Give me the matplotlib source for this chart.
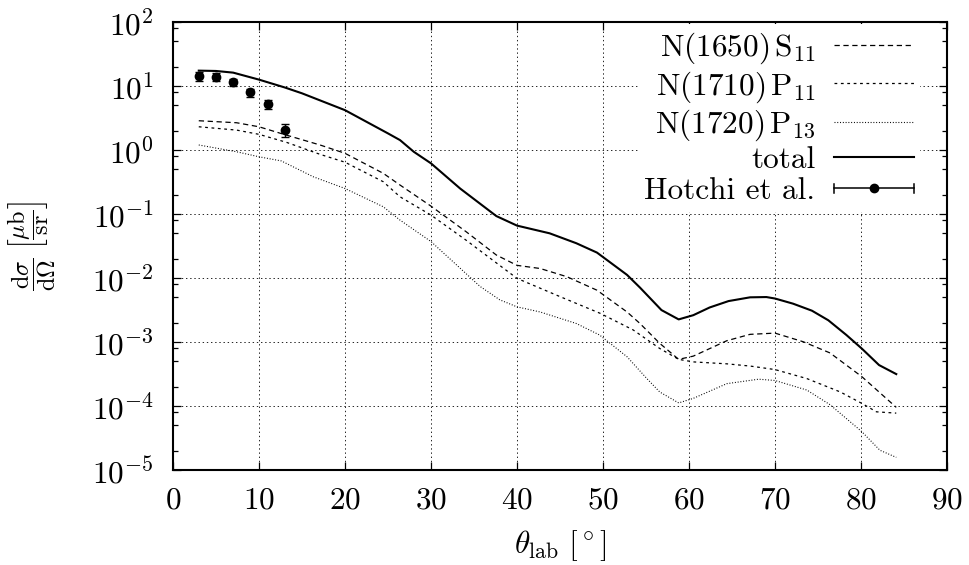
import matplotlib
matplotlib.use("Agg")
import matplotlib.pyplot as plt
from matplotlib.lines import Line2D
from matplotlib.legend_handler import HandlerBase
from matplotlib.ticker import LogLocator, NullFormatter

FS = 22.5

plt.rcParams.update({
    "font.family": "cmr10",
    "mathtext.fontset": "cm",
    "axes.formatter.use_mathtext": True,
    "axes.unicode_minus": False,
    "lines.scale_dashes": False,
    "font.size": FS,
})

# Resonance contributions and total cross section, dsigma/dOmega in mub/sr
theta_total = [3, 5, 7, 10, 13, 15, 20, 25, 26.4, 28, 30, 33.4, 37.6, 40, 43.8, 46.9,
               49.3, 52.8, 54.3, 56.8, 58.8, 60.5, 62.4, 64.6, 67.1, 69.0, 70, 72.1,
               74.3, 76.2, 78.3, 80.1, 82.1, 84.1]
xs_total = [17.4, 17.2, 16.2, 12.6, 9.5, 7.7, 4.2, 1.82, 1.43, 0.94, 0.62, 0.25, 0.093,
            0.066, 0.050, 0.035, 0.025, 0.0112, 0.0071, 0.00316, 0.00226, 0.00263,
            0.00347, 0.00437, 0.0050, 0.00505, 0.00479, 0.00398, 0.00309, 0.00219,
            0.00129, 0.00079, 0.000437, 0.000316]

theta_s11 = [3, 7.4, 10, 13.2, 17.1, 20, 24.45, 26.4, 30, 34.1, 37.6, 40, 42.7, 45.8,
             49.3, 52.8, 54.3, 56.6, 58.8, 60.5, 64.4, 67.1, 70, 73.3, 76.4, 80.1, 84.1]
xs_s11 = [2.87, 2.67, 2.31, 1.71, 1.20, 0.89, 0.433, 0.284, 0.133, 0.0528, 0.0229,
          0.0158, 0.0141, 0.0105, 0.00646, 0.00295, 0.00195, 0.000955, 0.000537,
          0.000603, 0.00105, 0.00132, 0.00138, 0.00101, 0.000676, 0.000288, 0.0000955]

theta_p11 = [3, 7.4, 10, 13.2, 17.1, 20, 24.45, 26.4, 30, 34.1, 40, 45, 49.65, 53.5,
             56.6, 58.8, 60.5, 64.4, 67.1, 70, 73.7, 77.6, 80.1, 81.8, 84.1]
xs_p11 = [2.31, 2.05, 1.76, 1.32, 0.857, 0.646, 0.32, 0.186, 0.0964, 0.0389, 0.00989,
          0.00513, 0.00282, 0.00155, 0.000794, 0.000537, 0.00049, 0.000457, 0.000422,
          0.000372, 0.000269, 0.000166, 0.00011, 0.0000813, 0.0000776]

theta_p13 = [3, 7.4, 10, 12.6, 16.3, 20, 24.45, 26.4, 30, 35.7, 38, 40, 42.7, 46.9,
             49.6, 52.8, 55.1, 56.6, 58.8, 60.5, 64.4, 68.1, 70, 73.7, 76.4, 80.1,
             82.2, 84.1]
xs_p13 = [1.20, 0.94, 0.785, 0.676, 0.383, 0.251, 0.130, 0.0805, 0.0372, 0.00741,
          0.00457, 0.00355, 0.00295, 0.00195, 0.00129, 0.000589, 0.000269, 0.000166,
          0.000112, 0.000132, 0.000224, 0.000263, 0.000251, 0.000178, 0.000105,
          0.0000398, 0.0000204, 0.0000158]

# Hotchi et al. measurement
theta_exp = [3, 5, 7, 9, 11, 13]
xs_exp = [14.5, 13.8, 11.4, 7.96, 5.18, 2.07]
err_exp = [2.3, 2.0, 1.5, 1.1, 0.8, 0.45]

labels = [r"$\mathrm{N(1650)\,S_{11}}$", r"$\mathrm{N(1710)\,P_{11}}$",
          r"$\mathrm{N(1720)\,P_{13}}$", "total", "Hotchi et al."]


class HandlerHorizontalBar(HandlerBase):
    """Legend key drawn as a horizontal error bar with end caps and a dot."""

    def create_artists(self, legend, orig_handle, xdescent, ydescent,
                       width, height, fontsize, trans):
        y = height / 2.0 - ydescent
        x0, x1 = -xdescent, width - xdescent
        cap = 3.0
        bar = Line2D([x0, x1], [y, y], color="black", lw=1.1, transform=trans)
        c0 = Line2D([x0, x0], [y - cap, y + cap], color="black", lw=1.1, transform=trans)
        c1 = Line2D([x1, x1], [y - cap, y + cap], color="black", lw=1.1, transform=trans)
        dot = Line2D([(x0 + x1) / 2.0], [y], marker="o", ms=6, color="black",
                     lw=0, transform=trans)
        return [bar, c0, c1, dot]


fig = plt.figure(figsize=(9.69, 5.65), dpi=100)
ax = fig.add_axes([0.1785, 0.168, 0.7988, 0.793])

l1, = ax.plot(theta_s11, xs_s11, color="black", lw=0.9, ls=(0, (3.8, 2.6)))
l2, = ax.plot(theta_p11, xs_p11, color="black", lw=0.9, ls=(0, (2.0, 2.6)))
l3, = ax.plot(theta_p13, xs_p13, color="black", lw=0.8, ls=(0, (0.7, 1.3)))
l4, = ax.plot(theta_total, xs_total, color="black", lw=1.5)
eb = ax.errorbar(theta_exp, xs_exp, yerr=err_exp, fmt="o", color="black", ms=6,
                 elinewidth=1.0, capsize=3, capthick=1.0)

ax.set_yscale("log")
ax.set_xlim(0, 90)
ax.set_ylim(1e-5, 1e2)
ax.set_xticks(range(0, 91, 10))
ax.yaxis.set_major_locator(LogLocator(base=10, numticks=20))
ax.yaxis.set_minor_locator(LogLocator(base=10, subs=(2, 5, 8), numticks=20))
ax.yaxis.set_minor_formatter(NullFormatter())

ax.tick_params(which="both", direction="in", top=True, right=True, labelsize=FS)
ax.tick_params(which="major", length=6, width=0.9)
ax.tick_params(which="minor", length=3.5, width=0.9)
ax.tick_params(axis="x", which="major", pad=12)
ax.tick_params(axis="y", which="major", pad=14)
for s in ax.spines.values():
    s.set_linewidth(1.5)

ax.grid(True, which="major", color="black", lw=0.6, ls=(0, (1, 2)))

ax.set_xlabel(r"$\theta_{\mathrm{lab}}\ [^\circ]$", fontsize=FS, labelpad=10)
ax.set_ylabel(r"$\dfrac{\mathrm{d}\sigma}{\mathrm{d}\Omega}\ \left[\dfrac{\mathrm{\mu b}}{\mathrm{sr}}\right]$",
              fontsize=17.5, labelpad=24)

leg = ax.legend([l1, l2, l3, l4, eb], labels, loc="upper right",
                bbox_to_anchor=(0.965, 0.995), markerfirst=False, frameon=True,
                fancybox=False, framealpha=1.0, edgecolor="none", facecolor="white",
                fontsize=FS, handlelength=2.55, handletextpad=0.6, labelspacing=0.1,
                borderpad=0.2, borderaxespad=0.0,
                handler_map={type(eb): HandlerHorizontalBar()})
for t in leg.get_texts():
    t.set_ha("right")
leg._legend_box.align = "right"

fig.savefig("out.png", dpi=100)
